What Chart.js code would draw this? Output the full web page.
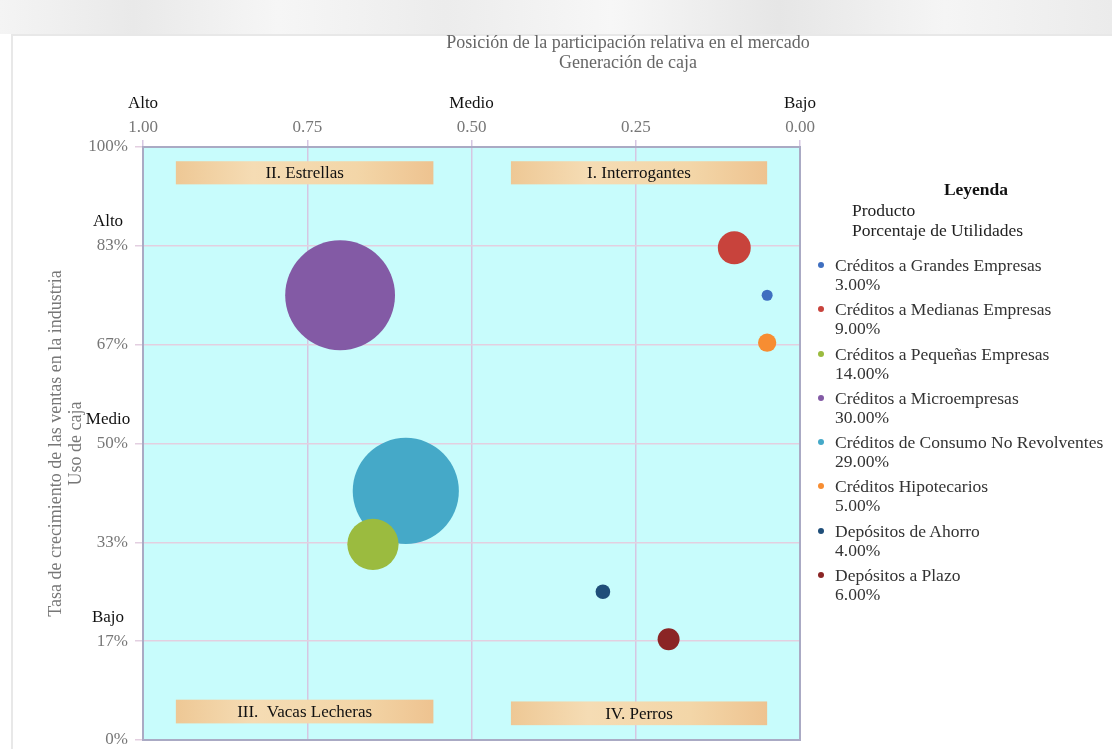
<!DOCTYPE html>
<html>
<head>
<meta charset="utf-8">
<style>
  html, body { margin: 0; padding: 0; background: #fff; }
  #wrap { position: relative; width: 1112px; height: 749px; overflow: hidden; font-family: "Liberation Serif", serif; }
  #band { position: absolute; left: 0; top: 0; width: 1112px; height: 34px;
    background: linear-gradient(90deg, #f4f4f4 0%, #e9e9e9 12%, #f6f6f6 25%, #ececec 40%, #f7f7f7 55%, #e6e6e6 70%, #f5f5f5 85%, #ebebeb 100%); }
  #frame { position: absolute; left: 11px; top: 34px; width: 1101px; height: 715px; border-left: 2px solid #e8e8e8; border-top: 2px solid #e8e8e8; }
  canvas { position: absolute; left: 0; top: 0; }
  #legend { position: absolute; left: 815px; top: 179px; width: 297px; color: #333; font-size: 17.5px; }
  #legend .head { text-align: center; font-weight: bold; color: #111; padding-left: 25px; line-height: 21px; }
  #legend .sub { padding-left: 37px; line-height: 20px; color: #222; }
  #legend .items { margin-top: 16px; }
  #legend .item { position: relative; padding-left: 20px; line-height: 19px; margin-bottom: 6.3px; }
  #legend .dot { position: absolute; left: 3px; top: 6px; width: 6px; height: 6px; border-radius: 50%; }
</style>
</head>
<body>
<div id="wrap">
  <div id="band"></div>
  <div id="frame"></div>
  <canvas id="bcg" width="1112" height="749"></canvas>
  <div id="legend">
    <div class="head">Leyenda</div>
    <div class="sub">Producto<br>Porcentaje de Utilidades</div>
    <div class="items" id="items"></div>
  </div>
</div>

<script src="https://cdn.jsdelivr.net/npm/chart.js"></script>
<script>
// productos y valores
const productos = [
  'Créditos a Grandes Empresas',
  'Créditos a Medianas Empresas',
  'Créditos a Pequeñas Empresas',
  'Créditos a Microempresas',
  'Créditos de Consumo No Revolventes',
  'Créditos Hipotecarios',
  'Depósitos de Ahorro',
  'Depósitos a Plazo'
];
const utilidades = [3, 9, 14, 30, 29, 5, 4, 6];              // % de utilidades (tamaño)
const participacion = [0.05, 0.10, 0.65, 0.70, 0.60, 0.05, 0.30, 0.20]; // eje x
const crecimiento = [0.75, 0.83, 0.33, 0.75, 0.42, 0.67, 0.25, 0.17];   // eje y

const xTicks = [1, 0.75, 0.5, 0.25, 0];
const xNiveles = { 1: 'Alto', 0.5: 'Medio', 0: 'Bajo' };
const yTicks = [0, 1, 2, 3, 4, 5, 6].map(i => i / 6);
const yNiveles = { 5: 'Alto', 3: 'Medio', 1: 'Bajo' };

const cuadrantes = [
  { text: 'II. Estrellas', x0: 0.95, x1: 0.558, y0: 0.976, y1: 0.937 },
  { text: 'I. Interrogantes', x0: 0.44, x1: 0.05, y0: 0.976, y1: 0.937 },
  { text: 'III.  Vacas Lecheras', x0: 0.95, x1: 0.558, y0: 0.068, y1: 0.028 },
  { text: 'IV. Perros', x0: 0.44, x1: 0.05, y0: 0.065, y1: 0.025 }
];

const colores = ['#3f6fc0', '#c8433c', '#9bbb3f', '#835aa5', '#45a9c8', '#f78d32', '#1f4e79', '#8b2525'];
const SERIF = '"Liberation Serif", "Times New Roman", serif';

// leyenda en html
const items = document.getElementById('items');
productos.forEach((p, i) => {
  const d = document.createElement('div');
  d.className = 'item';
  d.innerHTML = '<span class="dot" style="background:' + colores[i] + '"></span>' + p + '<br>' + utilidades[i].toFixed(2) + '%';
  items.appendChild(d);
});

const extras = {
  id: 'extras',
  beforeDraw(chart) {
    const { ctx, chartArea: a } = chart;
    ctx.save();
    ctx.fillStyle = '#c8fcfc';
    ctx.fillRect(a.left, a.top, a.right - a.left, a.bottom - a.top);
    ctx.restore();
  },
  beforeDatasetsDraw(chart) {
    const { ctx, chartArea: a, scales: { x, y } } = chart;
    ctx.save();
    // borde del area
    ctx.strokeStyle = '#aaaac4';
    ctx.lineWidth = 2;
    ctx.strokeRect(a.left, a.top, a.right - a.left, a.bottom - a.top);
    // etiquetas de cuadrantes
    cuadrantes.forEach(q => {
      const l = x.getPixelForValue(q.x0), r = x.getPixelForValue(q.x1);
      const t = y.getPixelForValue(q.y0), b = y.getPixelForValue(q.y1);
      const g = ctx.createLinearGradient(l, 0, r, 0);
      g.addColorStop(0, '#eec895');
      g.addColorStop(0.3, '#f5dcb4');
      g.addColorStop(0.7, '#f3d6a8');
      g.addColorStop(1, '#eec390');
      ctx.fillStyle = g;
      ctx.fillRect(l, t, r - l, b - t);
      ctx.fillStyle = '#111';
      ctx.font = '17px ' + SERIF;
      ctx.textAlign = 'center';
      ctx.textBaseline = 'middle';
      ctx.fillText(q.text, (l + r) / 2, (t + b) / 2 + 1);
    });
    ctx.restore();
  },
  afterDraw(chart) {
    const { ctx, scales: { x, y } } = chart;
    ctx.save();
    ctx.textBaseline = 'middle';
    ctx.textAlign = 'center';
    ctx.fillStyle = '#666';
    ctx.font = '18px ' + SERIF;
    ctx.fillText('Posición de la participación relativa en el mercado', 628, 43);
    ctx.fillText('Generación de caja', 628, 63);
    ctx.fillStyle = '#111';
    ctx.font = '17px ' + SERIF;
    Object.keys(xNiveles).forEach(v => {
      ctx.fillText(xNiveles[v], x.getPixelForValue(+v), 104);
    });
    Object.keys(yNiveles).forEach(k => {
      ctx.fillText(yNiveles[k], 108, y.getPixelForValue(k / 6) - 24);
    });
    ctx.restore();
  }
};

new Chart(document.getElementById('bcg'), {
  type: 'bubble',
  data: {
    datasets: productos.map((p, i) => ({
      label: p,
      data: [{ x: participacion[i], y: crecimiento[i], r: utilidades[i] * 1.83 }],
      backgroundColor: colores[i],
      borderWidth: 0,
      hoverBorderWidth: 0
    }))
  },
  options: {
    responsive: false,
    animation: false,
    devicePixelRatio: 1,
    layout: { autoPadding: false, padding: { left: 0, top: 0, right: 312, bottom: 9 } },
    plugins: { legend: { display: false }, tooltip: { enabled: false } },
    scales: {
      x: {
        type: 'linear',
        position: 'top',
        reverse: true,
        min: 0,
        max: 1,
        afterBuildTicks: s => { s.ticks = xTicks.map(v => ({ value: v })); },
        afterFit: s => { s.height = 147; s.paddingLeft = 0; s.paddingRight = 0; },
        ticks: {
          callback: v => v.toFixed(2),
          color: '#777',
          font: { family: SERIF, size: 17 },
          padding: 2,
          maxRotation: 0
        },
        grid: { color: '#d6c6e2', lineWidth: 1.5, tickLength: 7 },
        border: { color: '#aaaac4', width: 2 }
      },
      y: {
        type: 'linear',
        min: 0,
        max: 1,
        afterBuildTicks: s => { s.ticks = yTicks.map(v => ({ value: v })); },
        afterFit: s => { s.width = 143; s.paddingTop = 0; s.paddingBottom = 0; },
        ticks: {
          callback: v => Math.round(v * 100) + '%',
          color: '#777',
          font: { family: SERIF, size: 17 },
          padding: 7
        },
        grid: { color: '#e3cfe0', lineWidth: 1.5, tickLength: 8 },
        border: { color: '#aaaac4', width: 2 },
        title: {
          display: true,
          text: ['Tasa de crecimiento de las ventas en la industria', 'Uso de caja'],
          color: '#777',
          font: { family: SERIF, size: 18, lineHeight: 1.08 },
          padding: { top: 47, bottom: 0 }
        }
      }
    }
  },
  plugins: [extras]
});
</script>
</body>
</html>
